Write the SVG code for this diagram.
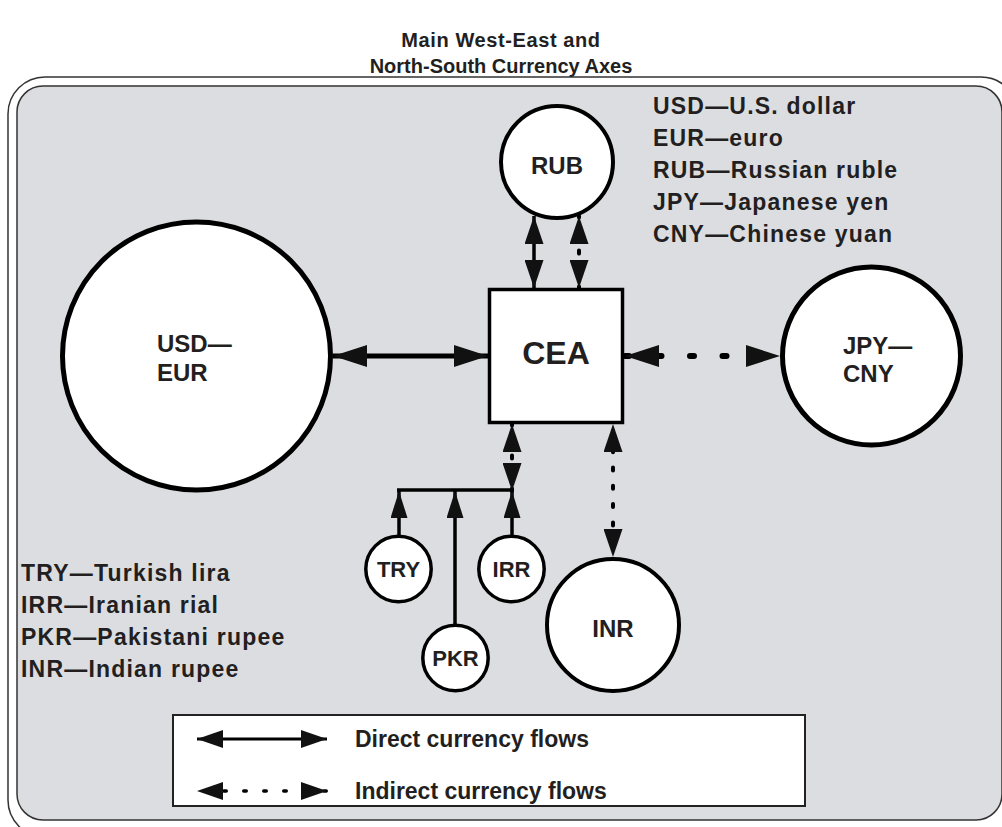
<svg xmlns="http://www.w3.org/2000/svg" width="1002" height="827" viewBox="0 0 1002 827">
<style>
text{font-family:"Liberation Sans",Arial,sans-serif;font-weight:bold;fill:#231f20}
.t20{font-size:20px}
.t24{font-size:24px}
.t22{font-size:22px}
.key{font-size:23px;letter-spacing:1.2px}
.leg{font-size:23px}
.mid{text-anchor:middle}
.node{fill:#fff;stroke:#000}
.line{fill:none;stroke:#000}
.frame{fill:none;stroke:#333;stroke-width:1.5}
.ah{fill:#111}
</style>
<defs>
<marker id="ahL" markerUnits="userSpaceOnUse" viewBox="0 0 34 22" markerWidth="34" markerHeight="22" refX="34" refY="11" orient="auto-start-reverse"><path class="ah" d="M0,0L34,11L0,22z"/></marker>
<marker id="ahM" markerUnits="userSpaceOnUse" viewBox="0 0 28 19" markerWidth="28" markerHeight="19" refX="28" refY="9.5" orient="auto-start-reverse"><path class="ah" d="M0,0L28,9.5L0,19z"/></marker>
<marker id="ahS" markerUnits="userSpaceOnUse" viewBox="0 0 27 17" markerWidth="27" markerHeight="17" refX="27" refY="8.5" orient="auto-start-reverse"><path class="ah" d="M0,0L27,8.5L0,17z"/></marker>
<marker id="ahG" markerUnits="userSpaceOnUse" viewBox="0 0 26 18" markerWidth="26" markerHeight="18" refX="26" refY="9" orient="auto-start-reverse"><path class="ah" d="M0,0L26,9L0,18z"/></marker>
</defs>

<g id="title">
<text class="t20 mid" x="501" y="47" style="letter-spacing:0.6px">Main West-East and</text>
<text class="t20 mid" x="501" y="73">North-South Currency Axes</text>
</g>

<g id="frame">
<rect class="frame" x="8" y="77" width="1010" height="760" rx="37"/>
<rect x="17" y="86" width="985" height="734" rx="26" fill="#dcdde0" stroke="#333" stroke-width="1.5"/>
</g>

<g id="connectors">
<path class="line" d="M333,356H488" stroke-width="5" marker-start="url(#ahL)" marker-end="url(#ahL)"/>
<path class="line" d="M625,356H780" stroke-width="6" stroke-linecap="round" stroke-dasharray="4 28.5" stroke-dashoffset="0" marker-start="url(#ahL)" marker-end="url(#ahL)"/>
<path class="line" d="M534,216V288" stroke-width="3.5" marker-start="url(#ahM)" marker-end="url(#ahM)"/>
<path class="line" d="M579,216V288" stroke-width="4" stroke-linecap="round" stroke-dasharray="3 15" stroke-dashoffset="-34.5" marker-start="url(#ahM)" marker-end="url(#ahM)"/>
<path class="line" d="M512,424V491" stroke-width="4" stroke-linecap="round" stroke-dasharray="3 30" stroke-dashoffset="-31.5" marker-start="url(#ahM)" marker-end="url(#ahM)"/>
<path class="line" d="M613,424V557" stroke-width="4" stroke-linecap="round" stroke-dasharray="3 15.3" stroke-dashoffset="11.4" marker-start="url(#ahM)" marker-end="url(#ahM)"/>
<path class="line" d="M397,490H512" stroke-width="3.5"/>
<path class="line" d="M399,535V491" stroke-width="3.5" marker-end="url(#ahS)"/>
<path class="line" d="M455,624V491" stroke-width="3.5" marker-end="url(#ahS)"/>
<path class="line" d="M512,535V491" stroke-width="3.5" marker-end="url(#ahS)"/>
</g>

<g id="usd-eur">
<circle class="node" cx="196.5" cy="356" r="134" stroke-width="5"/>
<text class="t24" x="157" y="352">USD—</text>
<text class="t24" x="157" y="381">EUR</text>
</g>

<g id="cea">
<rect class="node" x="489.5" y="289.5" width="133" height="133" stroke-width="3.5"/>
<text class="mid" x="556" y="364" style="font-size:32px">CEA</text>
</g>

<g id="jpy-cny">
<circle class="node" cx="871.5" cy="356" r="89" stroke-width="5"/>
<text class="t24" x="843" y="354">JPY—</text>
<text class="t24" x="843" y="382">CNY</text>
</g>

<g id="rub">
<circle class="node" cx="557" cy="162" r="56" stroke-width="4"/>
<text class="t24 mid" x="557" y="174">RUB</text>
</g>

<g id="try">
<circle class="node" cx="398.5" cy="569" r="32.7" stroke-width="3.5"/>
<text class="t22 mid" x="398.5" y="577">TRY</text>
</g>

<g id="irr">
<circle class="node" cx="511.5" cy="569" r="32.7" stroke-width="3.5"/>
<text class="t22 mid" x="511.5" y="577">IRR</text>
</g>

<g id="pkr">
<circle class="node" cx="455.5" cy="658" r="32.7" stroke-width="3.5"/>
<text class="t22 mid" x="455.5" y="666">PKR</text>
</g>

<g id="inr">
<circle class="node" cx="613" cy="625" r="66" stroke-width="4"/>
<text class="t24 mid" x="613" y="637">INR</text>
</g>

<g id="key-right">
<text class="key" x="653" y="114">USD—U.S. dollar</text>
<text class="key" x="653" y="146">EUR—euro</text>
<text class="key" x="653" y="178">RUB—Russian ruble</text>
<text class="key" x="653" y="210">JPY—Japanese yen</text>
<text class="key" x="653" y="242">CNY—Chinese yuan</text>
</g>

<g id="key-left">
<text class="key" x="21" y="581">TRY—Turkish lira</text>
<text class="key" x="21" y="613">IRR—Iranian rial</text>
<text class="key" x="21" y="645">PKR—Pakistani rupee</text>
<text class="key" x="21" y="677">INR—Indian rupee</text>
</g>

<g id="legend">
<rect x="173" y="715" width="632" height="91" fill="#fff" stroke="#222" stroke-width="2"/>
<path class="line" d="M197,739H327" stroke-width="3" marker-start="url(#ahG)" marker-end="url(#ahG)"/>
<path class="line" d="M197,791H327" stroke-width="3.5" stroke-linecap="round" stroke-dasharray="2.5 17.5" stroke-dashoffset="13.25" marker-start="url(#ahG)" marker-end="url(#ahG)"/>
<text class="leg" x="355" y="747">Direct currency flows</text>
<text class="leg" x="355" y="799">Indirect currency flows</text>
</g>
</svg>
